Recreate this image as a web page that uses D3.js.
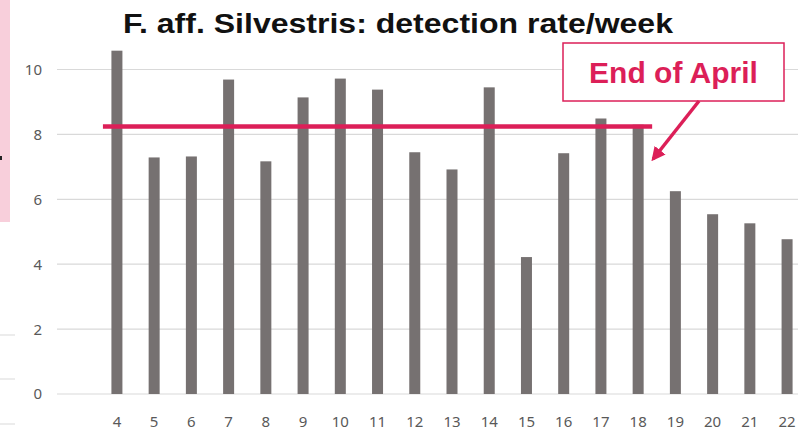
<!DOCTYPE html>
<html>
<head>
<meta charset="utf-8">
<script src="https://cdn.jsdelivr.net/npm/d3@7"></script>
<style>
  body { margin: 0; background: #fff; }
  svg { display: block; }
</style>
</head>
<body>
<script>
// weekly detection rate
const weeks = ["4", "5", "6", "7", "8", "9", "10", "11", "12", "13", "14", "15", "16", "17", "18", "19", "20", "21", "22"];
const rates = [10.58, 7.29, 7.32, 9.69, 7.17, 9.14, 9.72, 9.38, 7.45, 6.92, 9.45, 4.22, 7.42, 8.49, 8.3, 6.25, 5.54, 5.26, 4.77];
const yTicks = [0, 2, 4, 6, 8, 10];
const refLevel = 8.24; // red reference line
const refEndWeek = "18";
const title = "F. aff. Silvestris: detection rate/week";
const note = "End of April";

const width = 798, height = 434;
const red = "#dc1f58";

const svg = d3.select("body").append("svg")
  .attr("width", width)
  .attr("height", height);

// bits of the slide that leak in at the left edge
svg.append("rect").attr("x", 0).attr("y", 0).attr("width", 10).attr("height", 222).attr("fill", "#f8cfdb");
svg.append("rect").attr("x", 0).attr("y", 156).attr("width", 2).attr("height", 4).attr("fill", "#222");
[335, 379, 424].forEach((y) => {
  svg.append("line").attr("x1", 0).attr("x2", 15).attr("y1", y).attr("y2", y)
    .attr("stroke", "#d9d9d9").attr("stroke-width", 1);
});

const x = d3.scaleBand().domain(weeks).range([98.4, 805.6]).paddingInner(0.705).paddingOuter(0.35);
const y = d3.scaleLinear().domain([0, 10]).range([394, 69.5]);

// gridlines
svg.append("g")
  .selectAll("line")
  .data(yTicks)
  .join("line")
  .attr("x1", 57).attr("x2", width)
  .attr("y1", (d) => y(d)).attr("y2", (d) => y(d))
  .attr("stroke", "#d9d9d9")
  .attr("stroke-width", 1.2);

// y labels
svg.append("g")
  .selectAll("text")
  .data(yTicks)
  .join("text")
  .attr("x", 42)
  .attr("y", (d) => y(d))
  .attr("dy", "0.36em")
  .attr("text-anchor", "end")
  .attr("font-family", "Noto Sans, sans-serif")
  .attr("font-size", 15)
  .attr("fill", "#595959")
  .text((d) => d);

// bars
const bw = 11;
svg.append("g")
  .selectAll("rect")
  .data(weeks.map((w, i) => ({ week: w, rate: rates[i] })))
  .join("rect")
  .attr("x", (d) => x(d.week) + x.bandwidth() / 2 - bw / 2)
  .attr("y", (d) => y(d.rate))
  .attr("width", bw)
  .attr("height", (d) => y(0) - y(d.rate))
  .attr("fill", "#767171");

// x labels
svg.append("g")
  .selectAll("text")
  .data(weeks)
  .join("text")
  .attr("x", (d) => x(d) + x.bandwidth() / 2)
  .attr("y", 422)
  .attr("dy", "0.36em")
  .attr("text-anchor", "middle")
  .attr("font-family", "Noto Sans, sans-serif")
  .attr("font-size", 15)
  .attr("fill", "#595959")
  .text((d) => d);

// title
svg.append("text")
  .attr("x", 123)
  .attr("y", 33)
  .attr("font-family", "Liberation Sans, Arial, sans-serif")
  .attr("font-weight", "bold")
  .attr("font-size", 28)
  .attr("textLength", 550)
  .attr("lengthAdjust", "spacingAndGlyphs")
  .attr("fill", "#111")
  .text(title);

// reference line
const refX0 = x(weeks[0]) + x.bandwidth() / 2 - 14;
const refX1 = x(refEndWeek) + x.bandwidth() / 2 + 14;
svg.append("line")
  .attr("x1", refX0).attr("x2", refX1)
  .attr("y1", y(refLevel)).attr("y2", y(refLevel))
  .attr("stroke", red)
  .attr("stroke-width", 4.5);

// annotation box
const box = { x: 563, y: 43, w: 221, h: 58 };
svg.append("rect")
  .attr("x", box.x).attr("y", box.y)
  .attr("width", box.w).attr("height", box.h)
  .attr("fill", "#fff")
  .attr("stroke", red)
  .attr("stroke-width", 1.5);
svg.append("text")
  .attr("x", box.x + box.w / 2)
  .attr("y", box.y + 40)
  .attr("text-anchor", "middle")
  .attr("font-family", "Liberation Sans, Arial, sans-serif")
  .attr("font-weight", "bold")
  .attr("font-size", 30)
  .attr("fill", red)
  .text(note);

// arrow from box to the week 18 bar
svg.append("defs").append("marker")
  .attr("id", "head")
  .attr("viewBox", "0 0 10 10")
  .attr("refX", 8).attr("refY", 5)
  .attr("markerWidth", 4).attr("markerHeight", 4)
  .attr("orient", "auto")
  .append("path")
  .attr("d", "M0,0L10,5L0,10z")
  .attr("fill", red);

const tipX = x(refEndWeek) + x.bandwidth() / 2 + 15;
svg.append("line")
  .attr("x1", 699).attr("y1", box.y + box.h)
  .attr("x2", tipX).attr("y2", 159)
  .attr("stroke", red)
  .attr("stroke-width", 3.5)
  .attr("marker-end", "url(#head)");
</script>
</body>
</html>
